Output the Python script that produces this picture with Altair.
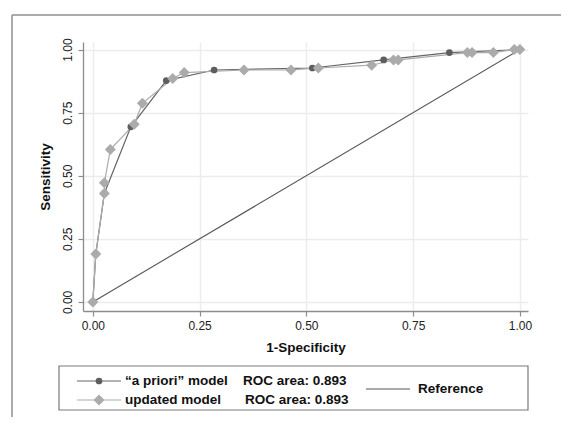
import altair as alt
import pandas as pd

# ---- data ----
apriori_fpr = [0.0, 0.007, 0.027, 0.089, 0.172, 0.284, 0.514, 0.681, 0.835, 1.0]
apriori_tpr = [0.0, 0.19, 0.43, 0.694, 0.877, 0.919, 0.927, 0.959, 0.988, 1.0]

updated_fpr = [0.0, 0.007, 0.027, 0.027, 0.041, 0.097, 0.116, 0.187, 0.214, 0.354,
               0.464, 0.528, 0.653, 0.704, 0.715, 0.877, 0.888, 0.938, 0.987, 1.0]
updated_tpr = [0.0, 0.19, 0.43, 0.472, 0.604, 0.704, 0.787, 0.885, 0.909, 0.919,
               0.919, 0.927, 0.938, 0.959, 0.959, 0.988, 0.988, 0.988, 1.0, 1.0]

reference_x = [0.0, 1.0]
reference_y = [0.0, 1.0]

model_names = ["\u201ca priori\u201d model", "updated model"]
roc_areas = [0.893, 0.893]
reference_label = "Reference"
tick_values = [0.0, 0.25, 0.5, 0.75, 1.0]

FONT = "Liberation Sans"
DARK = "#5e5e5e"
LIGHT = "#ababab"
REFC = "#555555"

ap = pd.DataFrame({"fpr": apriori_fpr, "tpr": apriori_tpr, "i": range(len(apriori_fpr))})
up = pd.DataFrame({"fpr": updated_fpr, "tpr": updated_tpr, "i": range(len(updated_fpr))})
ref = pd.DataFrame({"fpr": reference_x, "tpr": reference_y})

xs = alt.Scale(domain=[-0.023, 1.019], nice=False, zero=False)
ys = alt.Scale(domain=[-0.036, 1.03], nice=False, zero=False)

X = alt.X("fpr:Q", scale=xs, title="1-Specificity",
          axis=alt.Axis(values=tick_values, format=".2f", titlePadding=9, labelPadding=4))
Y = alt.Y("tpr:Q", scale=ys, title="Sensitivity",
          axis=alt.Axis(values=tick_values, format=".2f", labelAngle=270,
                        labelAlign="center", labelBaseline="bottom",
                        titlePadding=9, labelPadding=4))

ap_line = alt.Chart(ap).mark_line(color="#666666", strokeWidth=1.2).encode(x=X, y=Y, order="i:Q")
ap_pts = alt.Chart(ap).mark_point(shape="circle", filled=True, color=DARK, size=45, opacity=1).encode(x=X, y=Y)
up_line = alt.Chart(up).mark_line(color=LIGHT, strokeWidth=1.2).encode(x=X, y=Y, order="i:Q")
up_pts = alt.Chart(up).mark_point(shape="diamond", filled=True, color=LIGHT, size=120, opacity=1).encode(x=X, y=Y)
ref_line = alt.Chart(ref).mark_line(color=REFC, strokeWidth=1.1).encode(x=X, y=Y)

one = pd.DataFrame({"k": [0]})

def base():
    return alt.Chart(one)

def txt(s, x, y):
    return base().mark_text(align="left", baseline="middle", font=FONT, fontSize=13.5,
                            fontWeight="bold", color="#111").encode(
        x=alt.value(x), y=alt.value(y), text=alt.value(s))

legend_labels_roc = [f"ROC area: {a:.3f}" for a in roc_areas]

legend_parts = [
    # legend box
    base().mark_rect(fill="white", stroke="#7a7a7a", strokeWidth=1.2).encode(
        x=alt.value(-24), x2=alt.value(445), y=alt.value(324), y2=alt.value(368)),
    # row 1
    base().mark_rule(color="#666666", strokeWidth=1.2).encode(
        x=alt.value(-6), x2=alt.value(38), y=alt.value(339)),
    base().mark_point(shape="circle", filled=True, color=DARK, size=45, opacity=1).encode(
        x=alt.value(16), y=alt.value(339)),
    txt(model_names[0], 42, 339),
    txt(legend_labels_roc[0], 160, 339),
    # row 2
    base().mark_rule(color=LIGHT, strokeWidth=1.2).encode(
        x=alt.value(-6), x2=alt.value(38), y=alt.value(358)),
    base().mark_point(shape="diamond", filled=True, color=LIGHT, size=120, opacity=1).encode(
        x=alt.value(16), y=alt.value(358)),
    txt(model_names[1], 42, 358),
    txt(legend_labels_roc[1], 162, 358),
    # reference entry
    base().mark_rule(color=REFC, strokeWidth=1.1).encode(
        x=alt.value(283), x2=alt.value(327), y=alt.value(347)),
    txt(reference_label, 335, 347),
    # outer graph frame (top and left edges)
    base().mark_rule(color="#8f8f8f", strokeWidth=1.5).encode(
        x=alt.value(-71), x2=alt.value(478), y=alt.value(-27)),
    base().mark_rule(color="#8f8f8f", strokeWidth=1.5).encode(
        x=alt.value(-71), y=alt.value(-27), y2=alt.value(375)),
]

chart = alt.layer(ap_line, up_line, ref_line, ap_pts, up_pts, *legend_parts).properties(
    width=445, height=269,
    padding={"left": 3, "top": 6, "right": 0, "bottom": 0},
    background="white",
).configure_view(stroke=None).configure_axis(
    labelFont=FONT, titleFont=FONT, labelFontSize=12, titleFontSize=13.5,
    titleFontWeight="bold", titleColor="#111", labelColor="#222",
    domainColor="#8c8c8c", domainWidth=1.3, tickColor="#8c8c8c", tickWidth=1.2,
    tickSize=5, gridColor="#ececec", gridWidth=1.4,
)

chart.save("out.html", embed_options={"renderer": "svg", "actions": False})
